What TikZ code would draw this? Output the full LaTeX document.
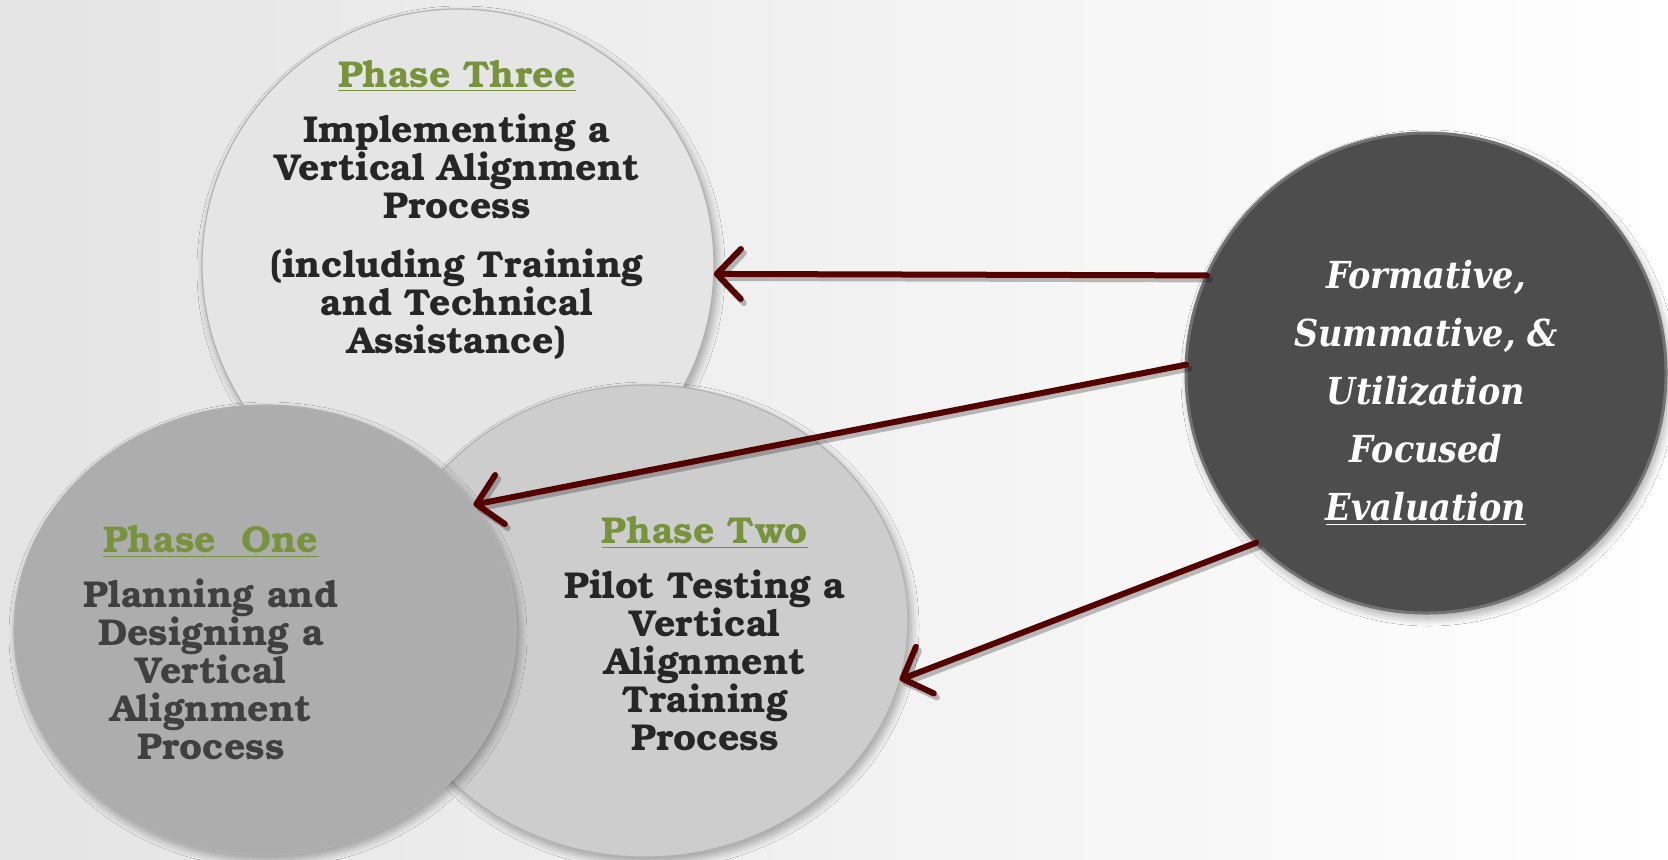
\documentclass[tikz,border=0pt]{standalone}
\usepackage{fontspec}
\usetikzlibrary{shapes.geometric,arrows.meta,shadows.blur}
\newfontfamily\bkfont{texgyrebonum-bold.otf}
\newfontfamily\evfont{DejaVu Serif}[FakeStretch=0.9]
\definecolor{bgl}{RGB}{228,228,228}
\definecolor{pthree}{RGB}{229,229,229}
\definecolor{ptwo}{RGB}{205,205,205}
\definecolor{pone}{RGB}{173,173,173}
\definecolor{evalc}{RGB}{77,77,77}
\definecolor{evrim}{RGB}{115,115,115}
\definecolor{phgreen}{RGB}{119,147,60}
\definecolor{arrowc}{RGB}{85,0,0}
\definecolor{txtdark}{RGB}{38,38,38}
\definecolor{txtone}{RGB}{64,64,64}
\tikzset{
  bubble/.style={ellipse, inner sep=0pt, outer sep=0pt, draw=black!30, line width=0.6pt,
    blur shadow={shadow xshift=1.5pt, shadow yshift=-2.5pt, shadow blur steps=12,
      shadow blur radius=4pt, shadow opacity=35}},
  ptext/.style={align=center, inner sep=0pt, font=\bkfont\fontsize{18.7}{19}\selectfont},
  evtext/.style={align=center, inner sep=0pt, text=white,
    font=\evfont\bfseries\itshape\fontsize{18.6}{29}\selectfont},
  conn/.style={draw=arrowc, line width=3pt, line cap=round,
    -{Straight Barb[length=12pt,width=25pt,round]}},
  connshadow/.style={draw=black, opacity=0.25, line width=3pt, line cap=round,
    -{Straight Barb[length=12pt,width=25pt,round]},
    transform canvas={xshift=1.5pt,yshift=-2pt}}
}
\begin{document}
\begin{tikzpicture}[x=0.5pt,y=-0.5pt]
\useasboundingbox (0,0) rectangle (1668,859);
\fill[left color=bgl, right color=white] (0,0) rectangle (1668,859);

\node[bubble, fill=pthree, minimum width=256pt, minimum height=256pt] (p3) at (458,265) {};
\node[bubble, fill=ptwo, minimum width=263pt, minimum height=236pt] (p2) at (645,621) {};
\node[bubble, fill=pone, minimum width=251pt, minimum height=225pt] (p1) at (265,630) {};
\node[bubble, fill=evalc, draw=evrim, line width=1.5pt, minimum width=240pt, minimum height=240pt] (ev) at (1426,373) {};

\node[ptext, text=txtdark] (t3) at (457,210) {\textcolor{phgreen}{\underline{Phase Three}}\\[8.5pt]
  Implementing a\\Vertical Alignment\\Process\\[10.5pt](including Training\\and Technical\\Assistance)};
\node[ptext, text=txtone] (t1) at (211,643) {\textcolor{phgreen}{\underline{Phase\ \ One}}\\[8.5pt]
  Planning and\\Designing a\\Vertical\\Alignment\\Process};
\node[ptext, text=txtdark] (t2) at (705,634) {\textcolor{phgreen}{\underline{Phase Two}}\\[8.5pt]
  Pilot Testing a\\Vertical\\Alignment\\Training\\Process};
\node[evtext] (tev) at (1426,393) {Formative,\\Summative, \&\\Utilization\\Focused\\\underline{Evaluation}};

\draw[connshadow] (ev.156) -- (p3.-2);
\draw[connshadow] (ev.178) -- (p1.31);
\draw[connshadow] (ev.225) -- (p2.-13);
\draw[conn] (ev.156) -- (p3.-2);
\draw[conn] (ev.178) -- (p1.31);
\draw[conn] (ev.225) -- (p2.-13);
\end{tikzpicture}
\end{document}
